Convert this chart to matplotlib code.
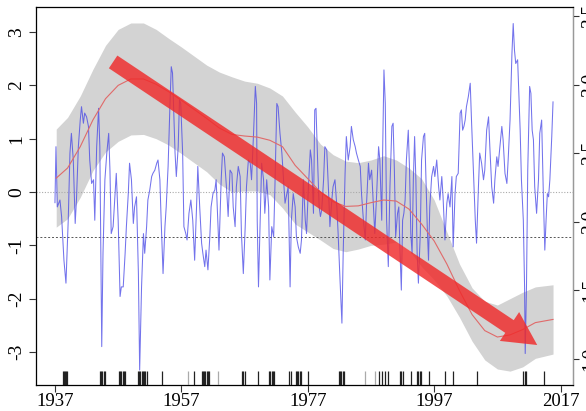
import numpy as np
import matplotlib
matplotlib.use("Agg")
import matplotlib.pyplot as plt
from matplotlib.patches import FancyArrowPatch

plt.rcParams['font.family'] = ['Liberation Serif', 'DejaVu Serif']

# index series
blue_year = [1937.0, 1937.16, 1937.37, 1937.79, 1938.05, 1938.42, 1938.74, 1939.1, 1939.37, 1939.6,
             1939.9, 1940.2, 1940.4, 1940.7, 1941.0, 1941.2, 1941.5, 1941.7, 1942.0, 1942.3,
             1942.5, 1942.8, 1943.1, 1943.3, 1943.6, 1943.9, 1944.1, 1944.4, 1944.6, 1944.9,
             1945.2, 1945.5, 1945.7, 1945.9, 1946.2, 1946.5, 1946.7, 1947.0, 1947.3, 1947.5,
             1947.8, 1948.1, 1948.3, 1948.6, 1948.8, 1949.1, 1949.4, 1949.6, 1949.9, 1950.2,
             1950.4, 1950.7, 1951.0, 1951.2, 1951.5, 1951.7, 1952.0, 1952.3, 1952.5, 1952.8,
             1953.1, 1953.3, 1953.6, 1953.8, 1954.1, 1954.4, 1954.6, 1954.9, 1955.2, 1955.4,
             1955.6, 1955.8, 1956.0, 1956.2, 1956.5, 1956.7, 1956.9, 1957.2, 1957.4, 1957.7,
             1957.9, 1958.2, 1958.5, 1958.8, 1959.1, 1959.4, 1959.6, 1959.9, 1960.2, 1960.4,
             1960.7, 1960.9, 1961.2, 1961.5, 1961.7, 1962.0, 1962.3, 1962.5, 1962.8, 1962.95,
             1963.3, 1963.5, 1963.8, 1964.2, 1964.4, 1964.7, 1965.0, 1965.2, 1965.5, 1965.7,
             1966.0, 1966.3, 1966.5, 1966.8, 1967.1, 1967.3, 1967.6, 1967.9, 1968.1, 1968.4,
             1968.7, 1968.9, 1969.0, 1969.2, 1969.4, 1969.7, 1970.0, 1970.2, 1970.5, 1970.8,
             1971.0, 1971.3, 1971.6, 1971.8, 1972.1, 1972.3, 1972.6, 1972.9, 1973.1, 1973.4,
             1973.7, 1973.9, 1974.2, 1974.4, 1974.7, 1975.0, 1975.2, 1975.5, 1975.8, 1976.0,
             1976.3, 1976.6, 1976.8, 1977.1, 1977.4, 1977.6, 1977.9, 1978.1, 1978.3, 1978.6,
             1978.8, 1979.0, 1979.2, 1979.5, 1979.7, 1980.0, 1980.3, 1980.5, 1980.8, 1981.0,
             1981.3, 1981.6, 1981.8, 1982.1, 1982.4, 1982.6, 1982.9, 1983.1, 1983.4, 1983.7,
             1983.9, 1984.2, 1984.5, 1984.7, 1985.0, 1985.3, 1985.5, 1985.8, 1986.1, 1986.3,
             1986.6, 1986.8, 1987.1, 1987.4, 1987.6, 1987.9, 1988.2, 1988.4, 1988.7, 1988.84,
             1989.05, 1989.26, 1989.47, 1989.74, 1990.0, 1990.3, 1990.5, 1990.7, 1990.9, 1991.2,
             1991.4, 1991.6, 1991.8, 1992.0, 1992.2, 1992.4, 1992.6, 1992.9, 1993.1, 1993.3,
             1993.5, 1993.7, 1993.9, 1994.1, 1994.3, 1994.5, 1994.8, 1995.0, 1995.3, 1995.5,
             1995.7, 1995.9, 1996.1, 1996.3, 1996.6, 1996.9, 1997.1, 1997.4, 1997.7, 1997.9,
             1998.2, 1998.4, 1998.7, 1999.0, 1999.2, 1999.5, 1999.8, 2000.0, 2000.3, 2000.5,
             2000.8, 2001.1, 2001.3, 2001.5, 2001.7, 2001.9, 2002.1, 2002.4, 2002.7, 2002.9,
             2003.2, 2003.5, 2003.7, 2004.0, 2004.2, 2004.5, 2004.8, 2005.0, 2005.3, 2005.6,
             2005.8, 2006.1, 2006.4, 2006.6, 2006.9, 2007.1, 2007.4, 2007.7, 2007.9, 2008.2,
             2008.5, 2008.7, 2009.0, 2009.3, 2009.5, 2009.7, 2009.9, 2010.2, 2010.4, 2010.6,
             2010.8, 2011.1, 2011.3, 2011.4, 2011.6, 2011.8, 2012.1, 2012.3, 2012.5, 2012.7,
             2012.9, 2013.2, 2013.5, 2013.7, 2014.0, 2014.3, 2014.5, 2014.7, 2014.9, 2015.1,
             2015.3, 2015.6, 2015.8]
blue_val = [-0.20, 0.85, -0.28, -0.15, -0.46, -1.28, -1.71, -0.53, 0.73, 1.10,
            0.60, -0.59, -0.15, 0.85, 1.35, 1.60, 1.29, 1.48, 1.41, 1.23,
            0.60, 0.16, 0.23, -0.53, 0.85, 1.57, 0.85, -2.90, -1.15, 0.23,
            0.73, 1.10, 0.41, -0.78, -0.65, -0.03, 0.35, -0.53, -1.96, -1.78,
            -1.78, -1.15, -0.65, -0.03, 0.54, 0.23, -0.59, -0.28, -0.09, -1.53,
            -3.34, -1.78, -0.78, -1.15, -0.65, -0.15, 0.04, 0.29, 0.35, 0.41,
            0.54, 0.60, 0.23, -0.53, -1.53, -0.65, -0.28, 0.48, 1.66, 2.35,
            2.23, 1.48, 0.73, 0.29, 0.85, 1.73, 1.66, 0.73, -0.65, -0.78,
            -0.90, -0.40, -0.15, -0.53, -1.28, -0.28, 0.48, -0.28, -0.96, -1.15,
            -1.40, -1.09, -1.46, -0.84, -0.28, -0.03, 0.04, 0.23, -0.65, -1.09,
            0.23, 0.73, 0.66, -0.03, -0.46, 0.41, 0.35, -0.28, -0.65, 0.10,
            0.48, 0.29, -0.78, -1.53, -0.65, 0.10, 0.60, 0.54, 0.23, 1.04,
            1.98, 1.66, -0.53, -1.78, -0.84, 0.54, 0.23, -0.40, 0.23, -0.28,
            -1.65, -0.65, -0.84, 0.10, 1.66, 1.60, 1.10, 0.73, 0.35, -0.21,
            -0.03, 0.10, -1.78, -0.53, -0.03, -0.28, -0.84, -1.03, -1.15, -0.90,
            0.23, -0.53, -0.78, 0.10, 0.79, 0.60, -0.40, 1.54, 1.57, 0.41,
            -0.28, -0.46, -0.34, 0.23, 0.85, 0.79, -0.03, -0.65, -0.15, 0.10,
            0.23, -0.28, -0.78, -1.65, -2.46, -1.15, 0.35, 1.04, 0.60, 0.85,
            1.23, 0.98, 0.85, 0.73, 0.60, 0.48, -0.03, -0.53, -0.90, -0.21,
            0.54, 0.23, 0.41, -0.28, -0.78, -0.03, 0.85, 0.60, -0.53, 0.73,
            2.29, 1.66, -0.53, -1.40, 0.10, 1.23, 1.29, 0.41, -0.84, -0.40,
            -0.28, -1.15, -1.84, -0.53, -0.40, -0.15, 0.60, 1.16, 0.41, -0.78,
            -1.15, 0.23, 1.04, 0.23, -1.15, -1.71, -0.78, 0.60, 1.04, 1.10,
            0.23, -0.65, -1.28, -0.28, 0.29, 0.48, 0.29, 0.60, 0.10, -0.15,
            0.29, -0.09, -0.90, -0.21, -0.03, -0.28, 0.29, -1.03, -0.03, 0.29,
            0.35, 1.48, 1.54, 1.16, 1.23, 1.35, 1.60, 1.79, 2.04, 1.35,
            0.41, -0.53, -0.96, 0.10, 0.73, 0.54, 0.23, 0.41, 1.16, 1.41,
            0.85, 0.10, -0.21, 0.23, 0.66, 0.48, 0.85, 1.23, 0.98, 0.35,
            0.16, 0.60, 1.35, 2.60, 3.16, 2.66, 2.41, 2.48, 1.79, 1.16,
            0.23, -0.53, -1.78, -3.03, -1.78, 0.41, 1.98, 1.85, 1.16, 0.98,
            0.10, -0.40, 0.23, 1.10, 1.35, -0.21, -1.09, -0.53, -0.03, -0.09,
            0.23, 1.04, 1.69]

# smooth trend with confidence band
fit_year = [1937.2, 1939, 1941, 1943, 1945, 1947, 1949, 1951, 1953, 1955,
            1957, 1959, 1961, 1963, 1965, 1967, 1969, 1971, 1973, 1975,
            1977, 1979, 1981, 1983, 1985, 1987, 1989, 1991, 1993, 1995,
            1997, 1999, 2001, 2003, 2005, 2007, 2009, 2011, 2013, 2015.8]
fit_mid = [0.26, 0.45, 0.85, 1.35, 1.75, 2.0, 2.12, 2.12, 2.02, 1.88,
           1.72, 1.55, 1.38, 1.2, 1.08, 1.05, 1.03, 0.97, 0.85, 0.5,
           0.25, 0.0, -0.18, -0.27, -0.26, -0.2, -0.15, -0.17, -0.32, -0.6,
           -0.92, -1.35, -1.85, -2.3, -2.6, -2.72, -2.68, -2.58, -2.45, -2.39]
fit_upper = [1.18, 1.4, 1.8, 2.3, 2.75, 3.05, 3.17, 3.17, 3.05, 2.88,
             2.72, 2.55, 2.38, 2.25, 2.16, 2.08, 2.04, 1.95, 1.8, 1.5,
             1.22, 0.9, 0.7, 0.58, 0.55, 0.6, 0.68, 0.6, 0.45, 0.25,
             -0.15, -0.75, -1.35, -1.8, -2.05, -2.12, -2.0, -1.88, -1.78, -1.74]
fit_lower = [-0.66, -0.5, -0.1, 0.4, 0.75, 0.95, 1.07, 1.08, 1.0, 0.88,
             0.72, 0.55, 0.38, 0.15, 0.0, 0.02, 0.02, -0.05, -0.3, -0.6,
             -0.75, -0.9, -1.06, -1.12, -1.07, -1.0, -0.98, -0.94, -1.09, -1.4,
             -1.65, -1.95, -2.35, -2.8, -3.15, -3.32, -3.36, -3.28, -3.12, -3.04]

# rug marks
rug_dark = [1938.3, 1938.45, 1938.6, 1938.75, 1938.9,
            1944.1, 1944.3, 1944.5, 1944.7, 1944.9,
            1947.1, 1947.3, 1947.5, 1947.7, 1947.9, 1948.1,
            1950.1, 1950.3, 1950.5, 1950.7, 1950.9, 1951.1, 1951.3, 1951.5,
            1954.0, 1959.0,
            1960.2, 1960.4, 1960.6, 1960.8, 1961.0, 1961.2, 1961.4,
            1966.6, 1966.8, 1967.0, 1969.2,
            1970.9, 1971.1, 1971.3, 1971.5, 1971.7,
            1974.1, 1974.3, 1975.1, 1975.3, 1975.5, 1975.7, 1975.9, 1977.0,
            1981.9, 1982.1, 1982.3, 1982.5, 1982.7,
            1988.2, 1988.7, 1989.2, 1989.7,
            1991.6, 1991.8, 1992.0, 1993.3,
            1994.3, 1994.5, 1994.7, 1994.9, 1996.2, 1998.7, 1999.9, 2003.7,
            2011.1, 2011.3, 2011.5, 2014.4]
rug_light = [1958.0, 1962.8, 1986.1, 1987.7]

threshold = -0.85
x_ticks = [1937, 1957, 1977, 1997, 2017]
y_ticks = [-3, -2, -1, 0, 1, 2, 3]
right_ticks = [1.0, 1.5, 2.0, 2.5, 3.0, 3.5]

fig = plt.figure(figsize=(5.86, 4.11), dpi=100)
ax = fig.add_axes([36 / 586, 26 / 411, 537 / 586, 378 / 411])

ax.fill_between(fit_year, fit_lower, fit_upper, color='#d3d3d3', lw=0, zorder=1)
ax.axhline(0, color='#aaaaaa', lw=0.8, ls=(0, (1, 1.5)), zorder=2)
ax.axhline(threshold, color='#555555', lw=0.7, ls=(0, (2, 2)), zorder=2)
ax.plot(blue_year, blue_val, color='#4444e6', lw=0.75, alpha=0.75, zorder=3)
ax.plot(fit_year, fit_mid, color='#e06a6a', lw=0.8, zorder=4)

ax.vlines(rug_dark, 0, 0.037, transform=ax.get_xaxis_transform(), color='#222222', lw=0.9, zorder=3)
ax.vlines(rug_light, 0, 0.037, transform=ax.get_xaxis_transform(), color='#aaaaaa', lw=0.9, zorder=3)

arrow = FancyArrowPatch((1946.2, 2.44), (2013.3, -2.87),
                        arrowstyle='simple,head_length=24,head_width=25,tail_width=11',
                        mutation_scale=1, shrinkA=0, shrinkB=0,
                        fc='#f02a2a', ec='none', alpha=0.82, zorder=5)
ax.add_patch(arrow)

ax.set_xlim(1934.0, 2018.96)
ax.set_ylim(-3.62, 3.47)
ax.set_xticks(x_ticks)
ax.set_yticks(y_ticks)
ax.set_yticklabels([str(v) for v in y_ticks], rotation=90, va='center')
ax.tick_params(axis='y', labelsize=14, length=5, width=0.8, color='#333333', pad=3)
ax.tick_params(axis='x', labelsize=13.5, length=5, width=0.8, color='#333333', pad=0.5)
for s in ax.spines.values():
    s.set_color('#999999')
    s.set_linewidth(1.0)

ax2 = ax.twinx()
ax2.set_ylim(2.217 - 3.62 / 2.572, 2.217 + 3.47 / 2.572)
ax2.set_yticks(right_ticks)
ax2.set_yticklabels(['%.1f' % v for v in right_ticks], rotation=90, va='center')
ax2.tick_params(labelsize=14, length=4, width=0.8, color='#333333', pad=2)
ax2.spines['right'].set_color('#999999')

fig.savefig('out.png', dpi=100)
